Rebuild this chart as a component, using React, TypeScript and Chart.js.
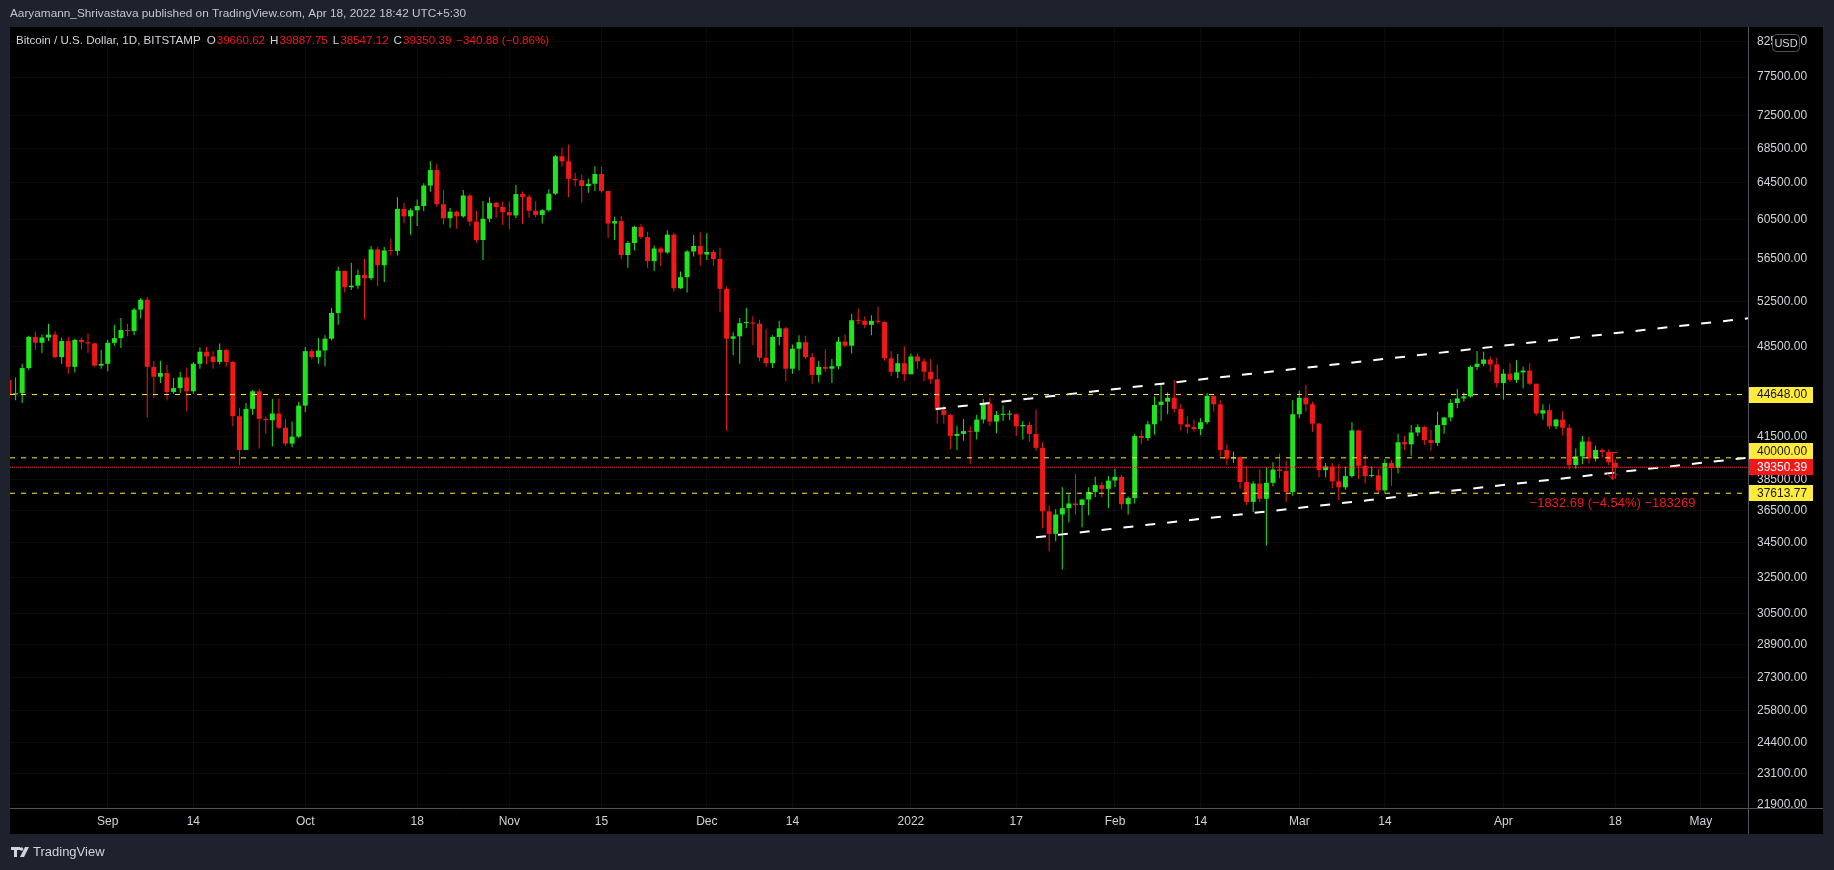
import React, { useEffect, useRef } from "react";
import { Chart, registerables } from "chart.js";

Chart.register(...registerables);

const FONT = '"Liberation Sans", Arial, Helvetica, sans-serif';
const UP = "#1fe51f";
const DOWN = "#f21818";
const GRID = "rgba(255,255,255,0.045)";
const TEXT = "#d1d4dc";
const YELLOW = "#ffeb3b";
const OUTER = "#1e222d";
const SEP = "#50535e";

// Daily candles [open, high, low, close]; day index counted from 2022-01-01
const FIRST_DAY = -137; // 2021-08-17

const aug2021 = [
  [45800, 47100, 44400, 44650], [44650, 46000, 44200, 44750], [44750, 47100, 44000, 46750],
  [46750, 49450, 46600, 49350], [49350, 49800, 48250, 48850], [48850, 49550, 48000, 49300],
  [49300, 50500, 49000, 49550], [49550, 49850, 47550, 47650], [47650, 49300, 47100, 49000],
  [49000, 49350, 46300, 46850], [46850, 49200, 46400, 49100], [49100, 49300, 48300, 48900],
  [48900, 49650, 48000, 48800], [48800, 48850, 46850, 46950], [46950, 48250, 46700, 47100],
];
const sep2021 = [
  [47100, 49100, 46500, 48850], [48850, 50400, 48600, 49250], [49250, 51000, 48400, 49950],
  [49950, 50500, 49400, 49850], [49850, 51900, 49500, 51750], [51750, 52800, 50950, 52650],
  [52650, 52900, 42900, 46850], [46850, 47340, 44400, 46050], [46050, 47350, 45550, 46350],
  [46350, 47000, 44200, 44850], [44850, 45950, 44700, 45150], [45150, 46450, 44750, 46000],
  [46000, 46800, 43350, 44900], [44900, 47250, 44700, 47100], [47100, 48450, 46700, 48100],
  [48100, 48500, 47050, 47700], [47700, 48150, 46700, 47250], [47250, 48800, 47050, 48250],
  [48250, 48350, 46850, 47250], [47250, 47350, 42250, 43000], [43000, 43630, 39500, 40550],
  [40550, 43990, 40550, 43550], [43550, 45000, 43100, 44900], [44900, 45100, 40650, 42800],
  [42800, 43000, 41700, 42700], [42700, 44300, 40800, 43200], [43200, 44350, 42050, 42150],
  [42150, 42800, 40850, 41000], [41000, 42600, 40750, 41500], [41500, 44100, 41400, 43800],
];
const oct2021 = [
  [43800, 48500, 43300, 48150], [48150, 48350, 47450, 47650], [47650, 49250, 47100, 48200],
  [48200, 49500, 46900, 49200], [49200, 51900, 49050, 51450], [51450, 55750, 50400, 55350],
  [55350, 55400, 53300, 53800], [53800, 56150, 53550, 53950], [53950, 55450, 53650, 54950],
  [54950, 56500, 50900, 54650], [54650, 57800, 54450, 57450], [57450, 57700, 53900, 55900],
  [55900, 57700, 54300, 57350], [57350, 58550, 56850, 57300], [57300, 62900, 56850, 61650],
  [61650, 62300, 60100, 60850], [60850, 61700, 58950, 61500], [61500, 62650, 59850, 61950],
  [61950, 64450, 61400, 64200], [64200, 66970, 63500, 65950], [65950, 66650, 61840, 62150],
  [62150, 63700, 60000, 60650], [60650, 61750, 59650, 61350], [61350, 61450, 59550, 60850],
  [60850, 63700, 60700, 63100], [63100, 63300, 59850, 60300], [60300, 61450, 58100, 58400],
  [58400, 62500, 56400, 60600], [60600, 62900, 60250, 62300], [62300, 62400, 60700, 61850],
  [61850, 62450, 59950, 61300],
];
const nov2021 = [
  [61300, 62450, 59500, 60950], [60950, 64250, 60650, 63250], [63250, 63550, 60050, 62950],
  [62950, 63200, 60700, 61450], [61450, 62500, 60750, 61000], [61000, 61600, 60100, 61500],
  [61500, 63800, 61350, 63300], [63300, 67700, 63150, 67550], [67550, 68550, 66350, 66950],
  [66950, 68950, 62900, 64950], [64950, 65600, 64100, 64800], [64800, 65450, 62300, 64150],
  [64150, 64950, 63400, 64400], [64400, 66400, 63600, 65500], [65500, 66300, 63400, 63600],
  [63600, 63600, 58600, 60100], [60100, 60800, 58400, 60350], [60350, 60900, 56500, 56900],
  [56900, 58300, 55650, 58100], [58100, 59850, 57350, 59750], [59750, 60050, 58500, 58700],
  [58700, 59250, 55650, 56300], [56300, 57850, 55350, 57550], [57550, 57700, 55850, 57150],
  [57150, 59400, 57000, 58950], [58950, 59150, 53400, 53700], [53700, 55300, 53630, 54750],
  [54750, 57400, 53300, 57250], [57250, 58900, 56750, 57800], [57800, 59200, 55850, 56950],
];
const dec2021 = [
  [56950, 59100, 56400, 57200], [57200, 57400, 55850, 56500], [56500, 57600, 51550, 53650],
  [53650, 53850, 41920, 49200], [49200, 49750, 47800, 49400], [49400, 51000, 47100, 50550],
  [50550, 51900, 50100, 50600], [50600, 51150, 48650, 50500], [50500, 50850, 47300, 47600],
  [47600, 50050, 46850, 47150], [47150, 49500, 46750, 49350], [49350, 50750, 48650, 50100],
  [50100, 50200, 45700, 46700], [46700, 48700, 46300, 48350], [48350, 49500, 46550, 48900],
  [48900, 49450, 47500, 47650], [47650, 48000, 45500, 46200], [46200, 47350, 45600, 46850],
  [46850, 48300, 46450, 46700], [46700, 47500, 45550, 46900], [46900, 49350, 46650, 48950],
  [48950, 49550, 48450, 48600], [48600, 51350, 47950, 50800], [50800, 51850, 50450, 50750],
  [50750, 51150, 50100, 50400], [50400, 51250, 49500, 50750], [50750, 52000, 50500, 50650],
  [50650, 50700, 47350, 47550], [47550, 48150, 46100, 46450], [46450, 47900, 45950, 47150],
  [47150, 48550, 45700, 46250],
];
const jan2022 = [
  [46250, 47950, 46250, 47700], [47700, 47950, 46700, 47300], [47300, 47550, 45700, 46450],
  [46450, 47500, 45500, 45850], [45850, 47050, 42450, 43450], [43450, 43800, 42450, 43100],
  [43100, 43150, 40620, 41550], [41550, 42300, 40550, 41700], [41700, 42800, 41200, 41900],
  [41900, 42250, 39550, 41850], [41850, 43100, 41300, 42750], [42750, 44300, 42450, 43950],
  [43950, 44400, 42300, 42600], [42600, 43400, 41750, 43100], [43100, 43800, 42650, 43120],
  [43120, 43450, 42700, 43150], [43150, 43200, 41550, 42250], [42250, 42650, 41300, 42350],
  [42350, 42600, 41150, 41700], [41700, 43500, 40500, 40700], [40700, 41100, 35400, 36450],
  [36450, 36800, 34000, 35050], [35050, 36600, 34600, 36250], [36250, 38000, 32950, 36650],
  [36650, 37550, 35750, 36950], [36950, 38900, 36250, 36850], [36850, 37250, 35450, 37200],
  [37200, 38000, 36200, 37700], [37700, 38700, 37350, 38150], [38150, 38350, 37350, 37900],
  [37900, 38750, 36650, 38450],
];
const feb2022 = [
  [38450, 39250, 38000, 38700], [38700, 38850, 36600, 36900], [36900, 37400, 36250, 37300],
  [37300, 41700, 36950, 41550], [41550, 41950, 40950, 41400], [41400, 42650, 41200, 42400],
  [42400, 44500, 41650, 43850], [43850, 45500, 42650, 44100], [44100, 44800, 43150, 44400],
  [44400, 45800, 43250, 43550], [43550, 43950, 41950, 42400], [42400, 43000, 41750, 42200],
  [42200, 42750, 41850, 42050], [42050, 42850, 41600, 42550], [42550, 44750, 42400, 44550],
  [44550, 44550, 43350, 43900], [43900, 44200, 40100, 40550], [40550, 40950, 39500, 39950],
  [39950, 40450, 39650, 40050], [40050, 40100, 37900, 38350], [38350, 39450, 36850, 37050],
  [37050, 38400, 36400, 38250], [38250, 39200, 37050, 37250], [37250, 39350, 34350, 38300],
  [38300, 39700, 38050, 39200], [39200, 40300, 38600, 39100], [39100, 39800, 37050, 37700],
  [37700, 44200, 37450, 43150],
];
const mar2022 = [
  [43150, 44950, 42850, 44400], [44400, 45400, 43350, 43900], [43900, 44100, 41850, 42450],
  [42450, 42500, 38650, 39150], [39150, 39650, 38650, 39400], [39400, 39650, 37950, 38400],
  [38400, 39550, 37150, 38000], [38000, 39400, 37850, 38750], [38750, 42550, 38650, 41950],
  [41950, 42000, 38550, 39450], [39450, 40200, 38250, 38750], [38750, 39400, 38650, 38800],
  [38800, 39250, 37600, 37800], [37800, 39900, 37600, 39650], [39650, 39850, 38100, 39300],
  [39300, 41700, 38950, 41100], [41100, 41550, 40550, 40950], [40950, 42350, 40150, 41800],
  [41800, 42400, 41550, 42200], [42200, 42300, 40900, 41250], [41250, 42000, 40500, 41050],
  [41050, 43350, 40850, 42350], [42350, 42950, 41700, 42900], [42900, 44300, 42600, 44000],
  [44000, 45100, 43600, 44350], [44350, 44800, 44100, 44500], [44500, 46950, 44400, 46850],
  [46850, 48150, 46600, 47100], [47100, 48100, 46900, 47450], [47450, 47700, 46450, 47050],
  [47050, 47600, 45200, 45550],
];
const apr2022 = [
  [45550, 46650, 44250, 46300], [46300, 47150, 45650, 45800], [45800, 47400, 45550, 46400],
  [46400, 46850, 45150, 46550], [46550, 47150, 45400, 45500], [45500, 45500, 43050, 43200],
  [43200, 43900, 42750, 43450], [43450, 43950, 42050, 42250], [42250, 42800, 42050, 42750],
  [42750, 43400, 41600, 42150], [42150, 42400, 39200, 39500], [39500, 40650, 39250, 40100],
  [40100, 41550, 39550, 41150], [41150, 41500, 39600, 39950], [39950, 40850, 39750, 40550],
  [40550, 40650, 40000, 40400], [40400, 40600, 39500, 39691.27],
  [39660.62, 39887.75, 38547.12, 39350.39],
];

const candles = [
  ...aug2021, ...sep2021, ...oct2021, ...nov2021, ...dec2021,
  ...jan2022, ...feb2022, ...mar2022, ...apr2022,
];

// Time axis (days from 2022-01-01)
const X_MIN = -136.85;
const X_MAX = 127.16;
const xTickDays = [-122, -109, -92, -75, -61, -47, -31, -18, 0, 16, 31, 44, 59, 72, 90, 107, 120];
const xTickLabels = ["Sep", "14", "Oct", "18", "Nov", "15", "Dec", "14", "2022", "17", "Feb", "14", "Mar", "14", "Apr", "18", "May"];

// Price axis (log)
const Y_MIN = 21768;
const Y_MAX = 84560;
const yTickValues = [
  82500, 77500, 72500, 68500, 64500, 60500, 56500, 52500, 48500, 44500, 41500,
  38500, 36500, 34500, 32500, 30500, 28900, 27300, 25800, 24400, 23100, 21900,
];

// Drawings
const levelLines = [44648, 40000, 37613.77];
const upperTrend = [{ x: 3.8, y: 43540 }, { x: 127.16, y: 50970 }];
const lowerTrend = [{ x: 19, y: 34840 }, { x: 127.16, y: 40010 }];
const measureDay = 107;
const measureFrom = 40380;
const measureTo = 38547.12;
const measureText = "\u22121832.69 (\u22124.54%) \u2212183269";

const publisherText = "Aaryamann_Shrivastava published on TradingView.com, Apr 18, 2022 18:42 UTC+5:30";
const symbolText = "Bitcoin / U.S. Dollar, 1D, BITSTAMP";

const fmt = (v: number) => v.toFixed(2);
const minus = (s: string) => s.replace("-", "\u2212");

const decorPlugin = {
  id: "decor",
  beforeDraw(chart: any) {
    const { ctx, chartArea } = chart;
    const ys = chart.scales.y;
    const xs = chart.scales.x;
    ctx.save();
    ctx.fillStyle = OUTER;
    ctx.fillRect(0, 0, chart.width, chart.height);
    ctx.fillStyle = "#000000";
    ctx.fillRect(chartArea.left, chartArea.top, ys.right - chartArea.left, xs.bottom - chartArea.top);
    ctx.restore();
  },
  afterDatasetsDraw(chart: any) {
    const { ctx } = chart;
    const xs = chart.scales.x;
    const ys = chart.scales.y;
    const x = Math.round(xs.getPixelForValue(measureDay)) - 2.5;
    const y1 = Math.round(ys.getPixelForValue(measureFrom)) + 0.5;
    const y2 = Math.round(ys.getPixelForValue(measureTo)) + 0.5;
    ctx.save();
    ctx.strokeStyle = DOWN;
    ctx.lineWidth = 1;
    ctx.beginPath();
    ctx.moveTo(x - 6, y1);
    ctx.lineTo(x + 5, y1);
    ctx.moveTo(x, y1);
    ctx.lineTo(x, y2);
    ctx.moveTo(x - 5, y2 - 6);
    ctx.lineTo(x, y2);
    ctx.lineTo(x + 5, y2 - 6);
    ctx.stroke();
    ctx.fillStyle = DOWN;
    ctx.font = `13px ${FONT}`;
    ctx.textAlign = "center";
    ctx.textBaseline = "middle";
    ctx.fillText(measureText, x, y2 + 24);
    ctx.restore();
  },
  afterDraw(chart: any) {
    const { ctx, chartArea } = chart;
    const xs = chart.scales.x;
    const ys = chart.scales.y;
    const paneRight = ys.right;
    const paneBottom = xs.bottom;
    ctx.save();

    // hide label overflow below the price area in the price-axis column
    ctx.fillStyle = "#000000";
    ctx.fillRect(chartArea.right + 1, chartArea.bottom + 1, paneRight - chartArea.right - 1, paneBottom - chartArea.bottom - 1);

    // separators
    ctx.strokeStyle = SEP;
    ctx.lineWidth = 1;
    ctx.beginPath();
    ctx.moveTo(chartArea.right + 0.5, chartArea.top);
    ctx.lineTo(chartArea.right + 0.5, paneBottom);
    ctx.moveTo(chartArea.left, chartArea.bottom + 0.5);
    ctx.lineTo(paneRight, chartArea.bottom + 0.5);
    ctx.stroke();

    // price badges
    const lastClose = candles[candles.length - 1][3];
    const bh = 16;
    const badges = [
      { v: levelLines[0], bg: YELLOW, fg: "#131722" },
      { v: levelLines[1], bg: YELLOW, fg: "#131722" },
      { v: lastClose, bg: DOWN, fg: "#ffffff", fixed: true },
      { v: levelLines[2], bg: YELLOW, fg: "#131722" },
    ].map((b) => ({ ...b, c: ys.getPixelForValue(b.v) }));
    badges.sort((a, b) => a.c - b.c);
    const fi = badges.findIndex((b: any) => b.fixed);
    for (let i = fi - 1; i >= 0; i--) badges[i].c = Math.min(badges[i].c, badges[i + 1].c - bh);
    for (let i = fi + 1; i < badges.length; i++) badges[i].c = Math.max(badges[i].c, badges[i - 1].c + bh);
    ctx.font = `12px ${FONT}`;
    ctx.textAlign = "left";
    ctx.textBaseline = "middle";
    badges.forEach((b) => {
      ctx.fillStyle = b.bg;
      ctx.fillRect(chartArea.right + 1, Math.round(b.c - bh / 2), 64, bh);
      ctx.fillStyle = b.fg;
      ctx.fillText(fmt(b.v), chartArea.right + 9, b.c + 0.5);
    });

    // USD button
    const ux = chartArea.right + 24.5;
    ctx.beginPath();
    ctx.roundRect(ux, 34.5, 27, 17, 4);
    ctx.fillStyle = "#000000";
    ctx.fill();
    ctx.strokeStyle = SEP;
    ctx.stroke();
    ctx.fillStyle = TEXT;
    ctx.font = `11px ${FONT}`;
    ctx.textAlign = "center";
    ctx.fillText("USD", ux + 13.5, 43.5);

    // header lines
    ctx.textAlign = "left";
    ctx.font = `11.8px ${FONT}`;
    ctx.fillStyle = "#c3c6ce";
    ctx.fillText(publisherText, 10, 14);
    ctx.font = `11.6px ${FONT}`;
    ctx.fillStyle = TEXT;
    ctx.fillText(symbolText, 16, 41);
    let hx = 16 + ctx.measureText(symbolText).width + 6;
    const last = candles[candles.length - 1];
    const prev = candles[candles.length - 2][3];
    const chg = last[3] - prev;
    const pct = (chg / prev) * 100;
    const items: [string, string][] = [
      ["O", fmt(last[0])],
      ["H", fmt(last[1])],
      ["L", fmt(last[2])],
      ["C", fmt(last[3])],
    ];
    items.forEach(([k, v]) => {
      ctx.fillStyle = TEXT;
      ctx.fillText(k, hx, 41);
      hx += ctx.measureText(k).width + 1;
      ctx.fillStyle = DOWN;
      ctx.fillText(v, hx, 41);
      hx += ctx.measureText(v).width + 5;
    });
    ctx.fillStyle = DOWN;
    ctx.fillText(`${minus(fmt(chg))} (${minus(pct.toFixed(2))}%)`, hx, 41);

    // TradingView logo
    ctx.fillStyle = TEXT;
    ctx.fillRect(11, 847, 9, 3);
    ctx.fillRect(14, 847, 3, 10);
    ctx.beginPath();
    ctx.arc(21.5, 849, 1.8, 0, Math.PI * 2);
    ctx.fill();
    ctx.beginPath();
    ctx.moveTo(25, 847);
    ctx.lineTo(29, 847);
    ctx.lineTo(24, 857);
    ctx.lineTo(20, 857);
    ctx.closePath();
    ctx.fill();
    ctx.font = `13px ${FONT}`;
    ctx.fillText("TradingView", 33, 852);
    ctx.restore();
  },
};

export default function App() {
  const ref = useRef<HTMLCanvasElement | null>(null);

  useEffect(() => {
    if (!ref.current) return;
    const days = candles.map((_, i) => FIRST_DAY + i);
    const colors = candles.map((c) => (c[3] >= c[0] ? UP : DOWN));
    const hLine = (v: number, color: string, dash: number[]) => ({
      type: "line" as const,
      data: [{ x: X_MIN, y: v }, { x: X_MAX, y: v }],
      borderColor: color,
      borderWidth: 1,
      borderDash: dash,
      pointRadius: 0,
      fill: false,
      order: 0,
      clip: 0,
    });
    const trend = (pts: { x: number; y: number }[]) => ({
      type: "line" as const,
      data: pts,
      borderColor: "#ffffff",
      borderWidth: 2,
      borderDash: [10, 12],
      pointRadius: 0,
      fill: false,
      order: 0,
      clip: 0,
    });

    const chart = new Chart(ref.current, {
      type: "bar",
      data: {
        datasets: [
          {
            type: "bar",
            data: candles.map((c, i) => ({ x: days[i], y: [c[2], c[1]] })) as any,
            backgroundColor: colors,
            barThickness: 1,
            grouped: false,
            borderWidth: 0,
            inflateAmount: 0,
            order: 2,
            clip: 0,
          } as any,
          {
            type: "bar",
            data: candles.map((c, i) => ({ x: days[i], y: [c[0], c[3]] })) as any,
            backgroundColor: colors,
            barThickness: 5,
            minBarLength: 1,
            grouped: false,
            borderWidth: 0,
            inflateAmount: 0,
            order: 1,
            clip: 0,
          } as any,
          hLine(levelLines[0], YELLOW, [5, 6]) as any,
          hLine(levelLines[1], YELLOW, [5, 6]) as any,
          hLine(levelLines[2], YELLOW, [5, 6]) as any,
          hLine(candles[candles.length - 1][3], "#ff2020", [1, 1]) as any,
          trend(upperTrend) as any,
          trend(lowerTrend) as any,
        ],
      },
      options: {
        responsive: false,
        devicePixelRatio: 1,
        animation: false,
        events: [],
        layout: { padding: { left: 10, top: 27, right: 11, bottom: 36 } },
        plugins: { legend: { display: false }, tooltip: { enabled: false } },
        scales: {
          x: {
            type: "linear",
            min: X_MIN,
            max: X_MAX,
            offset: false,
            afterBuildTicks: (s: any) => {
              s.ticks = xTickDays.map((v) => ({ value: v }));
            },
            afterFit: (s: any) => {
              s.height = 26;
            },
            ticks: {
              callback: (_v: any, i: number) => xTickLabels[i],
              color: TEXT,
              font: { family: FONT, size: 12 },
              padding: 6,
              autoSkip: false,
              maxRotation: 0,
              minRotation: 0,
            },
            grid: { color: GRID, drawTicks: false, offset: false },
            border: { display: false },
          },
          y: {
            type: "logarithmic",
            position: "right",
            min: Y_MIN,
            max: Y_MAX,
            afterBuildTicks: (s: any) => {
              s.ticks = yTickValues.map((v) => ({ value: v }));
            },
            afterFit: (s: any) => {
              s.width = 75;
            },
            ticks: {
              callback: (v: any) => Number(v).toFixed(2),
              color: TEXT,
              font: { family: FONT, size: 12 },
              padding: 9,
              autoSkip: false,
            },
            grid: { color: GRID, drawTicks: false },
            border: { display: false },
          },
        },
      } as any,
      plugins: [decorPlugin],
    });
    return () => chart.destroy();
  }, []);

  return (
    <div style={{ position: "absolute", left: 0, top: 0, width: 1834, height: 870, background: OUTER }}>
      <canvas ref={ref} width={1834} height={870} style={{ display: "block", width: 1834, height: 870 }} />
    </div>
  );
}
